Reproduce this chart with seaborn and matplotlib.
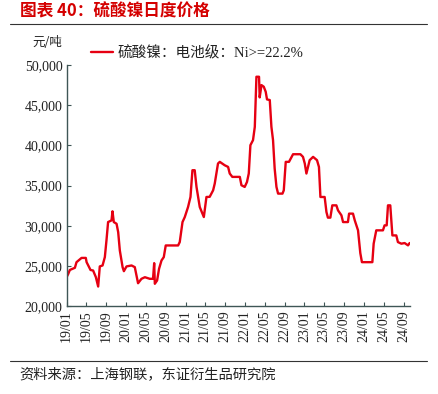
import numpy as np
import pandas as pd
import matplotlib
matplotlib.use('Agg')
import matplotlib.pyplot as plt
import matplotlib.dates as mdates
from matplotlib.lines import Line2D
from matplotlib.ticker import FuncFormatter, MultipleLocator
import seaborn as sns

# ============================================================================
# DATA
# ============================================================================
dates = [
    '2019-01-01', '2019-01-11', '2019-01-21', '2019-02-21', '2019-03-03', '2019-04-03',
    '2019-04-29', '2019-05-04', '2019-05-28', '2019-06-13', '2019-06-30', '2019-07-14',
    '2019-07-24', '2019-08-10', '2019-08-24', '2019-09-03', '2019-09-13', '2019-10-04',
    '2019-10-10', '2019-10-18', '2019-11-04', '2019-11-14', '2019-11-24', '2019-12-11',
    '2019-12-19', '2020-01-04', '2020-02-04', '2020-02-24', '2020-03-15', '2020-04-05',
    '2020-04-26', '2020-05-26', '2020-06-15', '2020-06-22', '2020-06-26', '2020-07-10',
    '2020-07-22', '2020-08-06', '2020-08-20', '2020-09-01', '2020-11-16', '2020-11-26',
    '2020-12-13', '2020-12-27', '2021-01-16', '2021-01-31', '2021-02-12', '2021-02-26',
    '2021-03-09', '2021-03-29', '2021-04-23', '2021-05-09', '2021-05-29', '2021-06-19',
    '2021-06-29', '2021-07-19', '2021-07-30', '2021-08-29', '2021-09-19', '2021-09-29',
    '2021-10-15', '2021-11-30', '2021-12-10', '2021-12-30', '2022-01-13', '2022-01-24',
    '2022-02-03', '2022-02-19', '2022-03-02', '2022-03-12', '2022-03-28', '2022-04-01',
    '2022-04-12', '2022-04-26', '2022-05-08', '2022-05-16', '2022-06-02', '2022-06-12',
    '2022-06-22', '2022-07-02', '2022-07-13', '2022-07-23', '2022-08-19', '2022-08-27',
    '2022-09-08', '2022-09-28', '2022-10-09', '2022-10-23', '2022-12-07', '2022-12-23',
    '2023-01-03', '2023-01-13', '2023-02-02', '2023-02-23', '2023-03-19', '2023-03-31',
    '2023-04-09', '2023-05-05', '2023-05-16', '2023-05-25', '2023-06-09', '2023-06-21',
    '2023-07-16', '2023-07-26', '2023-08-16', '2023-08-26', '2023-09-25', '2023-10-02',
    '2023-10-26', '2023-11-06', '2023-11-26', '2023-12-10', '2023-12-20', '2024-02-22',
    '2024-03-01', '2024-03-17', '2024-04-27', '2024-05-07', '2024-05-20', '2024-05-28',
    '2024-06-11', '2024-06-24', '2024-07-18', '2024-07-28', '2024-08-18', '2024-09-07',
    '2024-09-28', '2024-10-08',
]
prices = [
    23600, 24000, 24500, 24770, 25470, 26000,
    26000, 25470, 24500, 24430, 23600, 22440,
    24940, 25060, 26100, 28180, 30460, 30670,
    31800, 30460, 30250, 29200, 26930, 24850,
    24350, 24940, 25060, 24850, 22850, 23400,
    23600, 23400, 23400, 25350, 22780, 23190,
    24650, 25680, 26100, 27550, 27550, 27970,
    30460, 31085, 32330, 33580, 36910, 36910,
    34825, 32330, 31085, 33580, 33600, 34410,
    35250, 37740, 37950, 37530, 37320, 36500,
    36080, 36080, 35040, 34830, 35450, 36500,
    40025, 40650, 42300, 48540, 48540, 45970,
    47500, 47300, 46670, 45720, 45640, 42310,
    40650, 37120, 34830, 34000, 34000, 34410,
    37950, 37950, 38370, 38900, 38900, 38570,
    37740, 36500, 38160, 38570, 38160, 37320,
    33580, 33580, 31710, 31010, 31010, 32540,
    32540, 31920, 31300, 30460, 30460, 31510,
    31510, 30670, 29430, 26600, 25470, 25470,
    27770, 29430, 29430, 30050, 30050, 32540,
    32540, 28800, 28800, 27970, 27770, 27850,
    27560, 27850,
]
series_label = '硫酸镍：电池级：Ni>=22.2%'
y_unit = '元/吨'
title = '图表 40：硫酸镍日度价格'
source = '资料来源：上海钢联，东证衍生品研究院'

RED = '#e60012'
AXIS = '#3f5656'
TEXT = '#222222'

# ============================================================================
# PLOT
# ============================================================================
sns.set_style('ticks')
plt.rcParams['font.family'] = ['Liberation Serif', 'Noto Sans CJK SC']

df = pd.DataFrame({'date': pd.to_datetime(dates), 'price': prices})

fig = plt.figure(figsize=(4.38, 3.94), dpi=100)
ax = fig.add_axes([0.152, 0.223, 0.784, 0.612])

sns.lineplot(data=df, x='date', y='price', ax=ax, color=RED, linewidth=1.7,
             label=series_label)

ax.set_xlim(pd.Timestamp('2019-01-01'), pd.Timestamp('2024-10-10'))
ax.set_ylim(20000, 50000)
ax.yaxis.set_major_locator(MultipleLocator(5000))
ax.yaxis.set_major_formatter(FuncFormatter(lambda v, _: f'{int(v):,}'))
ax.xaxis.set_major_locator(mdates.MonthLocator(bymonth=[1, 5, 9]))
ax.xaxis.set_major_formatter(mdates.DateFormatter('%y/%m'))
ax.set_xlabel('')
ax.set_ylabel('')

for side in ['top', 'right']:
    ax.spines[side].set_visible(False)
for side in ['left', 'bottom']:
    ax.spines[side].set_color(AXIS)
    ax.spines[side].set_linewidth(1.0)
ax.tick_params(axis='both', direction='in', length=3, width=0.8, color=AXIS,
               labelsize=10, labelcolor=TEXT, pad=3)
ax.tick_params(axis='x', labelrotation=90)

leg = ax.legend(loc='upper left', bbox_to_anchor=(0.055, 1.105), frameon=False,
                fontsize=10.5, handlelength=1.5, handletextpad=0.3,
                borderaxespad=0)
for t in leg.get_texts():
    t.set_color(TEXT)

fig.text(0.073, 0.893, y_unit, fontsize=9, color=TEXT,
         family=['Noto Sans CJK SC'], va='center')
fig.text(0.045, 0.970, title, fontsize=12, color='#d40000', fontweight='bold',
         family=['Noto Sans CJK SC'], va='center')
fig.add_artist(Line2D([0.023, 0.975], [0.939, 0.939], color='#333333', lw=0.8))
fig.add_artist(Line2D([0.023, 0.975], [0.084, 0.084], color='#333333', lw=0.8))
fig.text(0.045, 0.051, source, fontsize=10.3, color=TEXT,
         family=['Noto Sans CJK SC'], va='center')

fig.savefig('out.png', dpi=100)
plt.close(fig)
